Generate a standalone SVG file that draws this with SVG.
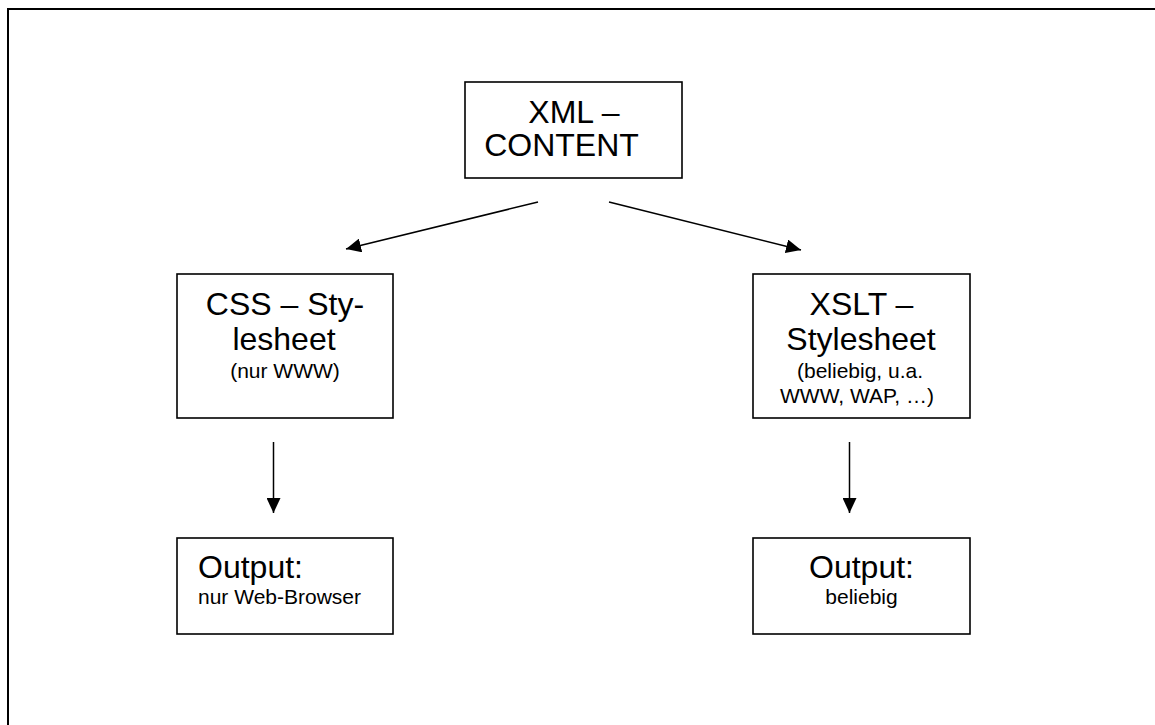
<svg xmlns="http://www.w3.org/2000/svg" width="1155" height="725" viewBox="0 0 1155 725">
<defs>
<marker id="ah" viewBox="0 0 15 14" refX="15" refY="7" markerWidth="15" markerHeight="14" markerUnits="userSpaceOnUse" orient="auto">
<path d="M0,0 L15,7 L0,14 Z" fill="#000"/>
</marker>
<style>
.box{fill:#fff;stroke:#000;stroke-width:1.6}
.t{font-family:"Liberation Sans",Arial,sans-serif;fill:#000}
.big{font-size:32px}
.small{font-size:21px}
.mid{text-anchor:middle}
.conn{stroke:#000;stroke-width:1.5;fill:none;marker-end:url(#ah)}
</style>
</defs>
<rect width="1155" height="725" fill="#fff"/>
<g id="frame" stroke="#000" stroke-width="2" fill="none">
<line x1="7" y1="9" x2="1155" y2="9"/>
<line x1="8" y1="8" x2="8" y2="725"/>
</g>
<g id="connectors">
<line class="conn" x1="538" y1="202" x2="346" y2="249"/>
<line class="conn" x1="609" y1="202" x2="801" y2="250"/>
<line class="conn" x1="273.5" y1="442" x2="273.5" y2="513"/>
<line class="conn" x1="849.5" y1="442" x2="849.5" y2="513"/>
</g>
<g id="xml">
<rect class="box" x="465" y="82" width="217" height="96"/>
<text class="t big mid" x="574" y="123">XML –</text>
<text class="t big mid" x="561.5" y="156">CONTENT</text>
</g>
<g id="css">
<rect class="box" x="177" y="274" width="216" height="144"/>
<text class="t big mid" x="285" y="315">CSS – Sty-</text>
<text class="t big mid" x="284" y="350">lesheet</text>
<text class="t small mid" x="285" y="378">(nur WWW)</text>
</g>
<g id="xslt">
<rect class="box" x="753" y="274" width="217" height="144"/>
<text class="t big mid" x="861.5" y="315">XSLT –</text>
<text class="t big mid" x="861" y="350">Stylesheet</text>
<text class="t small mid" x="860" y="378">(beliebig, u.a.</text>
<text class="t small mid" x="857" y="403">WWW, WAP, …)</text>
</g>
<g id="out-css">
<rect class="box" x="177" y="538" width="216" height="96"/>
<text class="t big" x="198" y="578">Output:</text>
<text class="t small" x="198" y="604">nur Web-Browser</text>
</g>
<g id="out-xslt">
<rect class="box" x="753" y="538" width="217" height="96"/>
<text class="t big mid" x="861.5" y="578">Output:</text>
<text class="t small mid" x="861.5" y="604">beliebig</text>
</g>
</svg>
